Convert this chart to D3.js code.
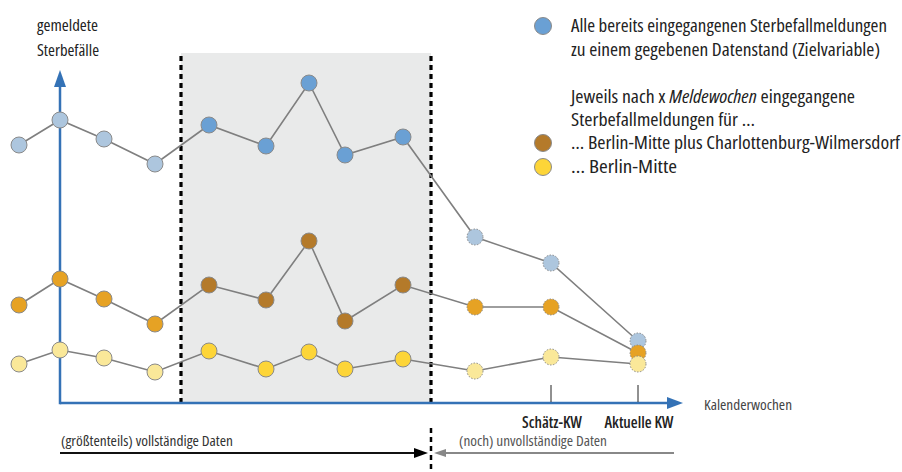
<!DOCTYPE html>
<html><head><meta charset="utf-8">
<script src="https://cdn.jsdelivr.net/npm/d3@7"></script>
<style>
html,body{margin:0;padding:0;background:#fff;}
svg{display:block;font-family:"Open Sans","Noto Sans","DejaVu Sans",sans-serif;font-stretch:condensed;}
</style></head>
<body><svg id="c" width="902" height="472"></svg>
<script>
// Calendar-week positions (horizontal units), schematic
const weekPos = [0, 4.1, 8.5, 13.6, 19.0, 24.7, 29.0, 32.6, 38.4, 45.6, 53.2, 61.9];
// phase of each week: complete / analysed window / incomplete
const phase = ["c","c","c","c","w","w","w","w","w","i","i","i"];
// series values (reported deaths, schematic units)
const allReports = [258, 283, 264, 239, 278, 257, 320, 248, 266, 166, 140, 62];
const mittePlusCW = [98, 124, 104, 79, 118, 103, 162, 82, 118, 96, 96, 50];
const mitte = [39, 53, 45, 31, 52, 34, 51, 34, 44, 32, 46, 39];
const tickLabels = [{i:10, label:"Schätz-KW", w:60}, {i:11, label:"Aktuelle KW", w:69}];
const windowRange = [16.2, 41.2];
const axisRangeX = [4.1, 66.4];
const axisRangeY = [0, 333];

const svg = d3.select("#c");
const x = d3.scaleLinear().domain([0, 61.9]).range([19, 638]);
const y = d3.scaleLinear().domain([0, 333]).range([403, 70]);

const series = [
  {name:"all", values: allReports, light:"#adc6de", dark:"#6aa0d4"},
  {name:"mcw", values: mittePlusCW, light:"#e6a224", dark:"#b47a2a"},
  {name:"m", values: mitte, light:"#fae899", dark:"#fdd538"}
];

function txt(px, py, str, size, len, opts = {}) {
  const t = svg.append("text").attr("x", px).attr("y", py)
    .attr("font-size", size).attr("fill", opts.fill || "#222")
    .attr("font-weight", opts.bold ? 600 : null)
    .attr("text-anchor", opts.anchor || "start");
  if (Array.isArray(str)) {
    str.forEach(p => t.append("tspan").attr("font-style", p.it ? "italic" : null).text(p.t));
  } else t.text(str);
  if (len) t.attr("textLength", len).attr("lengthAdjust", "spacingAndGlyphs");
  return t;
}

// shaded window
svg.append("rect")
  .attr("x", x(windowRange[0])).attr("y", 53)
  .attr("width", x(windowRange[1]) - x(windowRange[0]))
  .attr("height", y(0) - 53)
  .attr("fill", "#e9eaea");

// dashed window borders
windowRange.forEach(w => {
  svg.append("line")
    .attr("x1", x(w)).attr("x2", x(w)).attr("y1", 56).attr("y2", y(0))
    .attr("stroke", "#000").attr("stroke-width", 3.2).attr("stroke-dasharray", "5,4");
});

// axes
const axisColor = "#3472b6";
svg.append("line").attr("x1", x(axisRangeX[0])).attr("x2", x(axisRangeX[1]) - 14)
  .attr("y1", y(0)).attr("y2", y(0)).attr("stroke", axisColor).attr("stroke-width", 2.5);
svg.append("path")
  .attr("d", `M${x(axisRangeX[1])},${y(0)} L${x(axisRangeX[1])-16},${y(0)-6} L${x(axisRangeX[1])-16},${y(0)+6} Z`)
  .attr("fill", axisColor);
svg.append("line").attr("x1", x(axisRangeX[0])).attr("x2", x(axisRangeX[0]))
  .attr("y1", y(0) + 1.2).attr("y2", y(axisRangeY[1]) + 14).attr("stroke", axisColor).attr("stroke-width", 2.5);
svg.append("path")
  .attr("d", `M${x(axisRangeX[0])},${y(axisRangeY[1])} L${x(axisRangeX[0])-6},${y(axisRangeY[1])+17} L${x(axisRangeX[0])+6},${y(axisRangeY[1])+17} Z`)
  .attr("fill", axisColor);

// ticks on x axis
tickLabels.forEach(t => {
  const px = x(weekPos[t.i]);
  svg.append("line").attr("x1", px).attr("x2", px).attr("y1", 385).attr("y2", y(0) - 1)
    .attr("stroke", "#222").attr("stroke-width", 1);
  txt(px - t.w / 2 + 1, 428, t.label, 16, t.w, {bold: true});
});

txt(704, 410, "Kalenderwochen", 15, 88, {fill: "#444"});

// y axis title
txt(37, 31, "gemeldete", 16, 61);
txt(37, 56, "Sterbefälle", 16, 62);

// series
const line = d3.line().x((d, i) => x(weekPos[i])).y(d => y(d));
series.forEach(s => {
  svg.append("path").datum(s.values).attr("d", line)
    .attr("fill", "none").attr("stroke", "#7f7f7f").attr("stroke-width", 1.6);
  svg.selectAll(null).data(s.values).enter().append("circle")
    .attr("cx", (d, i) => x(weekPos[i])).attr("cy", d => y(d)).attr("r", 8)
    .attr("fill", (d, i) => phase[i] === "w" ? s.dark : s.light)
    .attr("stroke", "#8a8a8a").attr("stroke-width", 1)
    .attr("stroke-dasharray", (d, i) => phase[i] === "i" ? "1.5,1.5" : null);
});

// legend
const legend = [
  {cy: 26, color: "#6aa0d4"},
  {cy: 143, color: "#b47a2a"},
  {cy: 167, color: "#fdd538"}
];
legend.forEach(l => {
  svg.append("circle").attr("cx", 543).attr("cy", l.cy).attr("r", 8.5)
    .attr("fill", l.color).attr("stroke", "#8a8a8a").attr("stroke-width", 1);
});
txt(571, 32, "Alle bereits eingegangenen Sterbefallmeldungen", 17.5, 316);
txt(571, 56, "zu einem gegebenen Datenstand (Zielvariable)", 17.5, 309);
txt(571, 103, [{t:"Jeweils nach x "}, {t:"Meldewochen", it:true}, {t:" eingegangene"}], 17.5, 284);
txt(571, 126, "Sterbefallmeldungen für …", 17.5, 184);
txt(571, 149, "…  Berlin-Mitte plus Charlottenburg-Wilmersdorf", 17.5, 329);
txt(571, 173, "…  Berlin-Mitte", 17.5, 106);

// bottom annotation
const splitX = x(windowRange[1]);
svg.append("line").attr("x1", splitX).attr("x2", splitX).attr("y1", 428).attr("y2", 472)
  .attr("stroke", "#000").attr("stroke-width", 2.5).attr("stroke-dasharray", "5,4");
svg.append("line").attr("x1", x(axisRangeX[0])).attr("x2", splitX - 14).attr("y1", 453).attr("y2", 453)
  .attr("stroke", "#111").attr("stroke-width", 2);
svg.append("path").attr("d", `M${splitX-3},453 L${splitX-17},448 L${splitX-17},458 Z`).attr("fill", "#000");
svg.append("line").attr("x1", splitX + 14).attr("x2", x(weekPos[11]) + 36).attr("y1", 453).attr("y2", 453)
  .attr("stroke", "#888").attr("stroke-width", 2);
svg.append("path").attr("d", `M${splitX+3},453 L${splitX+15},449 L${splitX+15},457 Z`).attr("fill", "#888");
txt(61, 446, "(größtenteils) vollständige Daten", 14.5, 172, {fill: "#333"});
txt(459, 446, "(noch) unvollständige Daten", 14.5, 148, {fill: "#555"});
</script></body></html>
